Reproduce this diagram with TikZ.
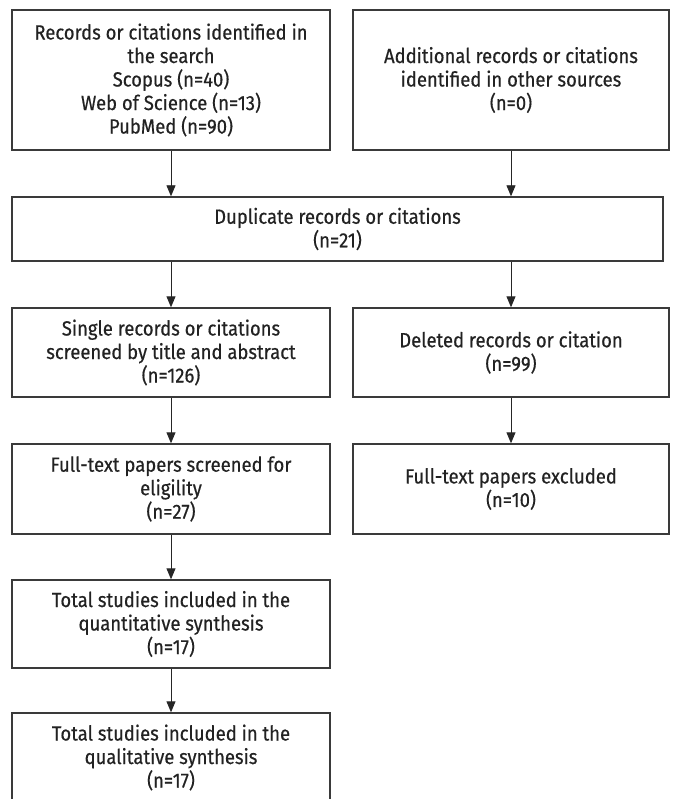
\documentclass[tikz,border=0pt]{standalone}
\usepackage{fontspec}
\setmainfont{Fira Sans}[FakeStretch=0.9,FakeBold=0.5]
\usetikzlibrary{arrows.meta,positioning}
\definecolor{boxline}{HTML}{3A3A3A}
\definecolor{txt}{HTML}{222222}
\tikzset{
  flowbox/.style={draw=boxline, line width=1.4pt, rectangle, inner sep=0pt, align=center,
    text=txt, font=\fontsize{20.5}{23.5}\selectfont},
  flowarrow/.style={line width=0.9pt, draw=black!85, -{Triangle[length=11pt,width=9pt]}}
}
\begin{document}
\begin{tikzpicture}[x=1pt,y=-1pt]
\useasboundingbox (0,0) rectangle (672,799);
\begin{scope}
\clip (0,0) rectangle (672,799);
\node[flowbox, minimum width=318pt, minimum height=140pt] (b1) at (171,80)
  {Records or citations identified in\\the search\\Scopus (n=40)\\Web of Science (n=13)\\PubMed (n=90)};
\node[flowbox, minimum width=316pt, minimum height=140pt] (b2) at (511,80)
  {Additional records or citations\\identified in other sources\\(n=0)};
\node[flowbox, minimum width=651pt, minimum height=64pt] (dup) at (337.5,229)
  {Duplicate records or citations\\(n=21)};
\node[flowbox, minimum width=318pt, minimum height=89pt] (single) at (171,352.5)
  {Single records or citations\\screened by title and abstract\\(n=126)};
\node[flowbox, minimum width=316pt, minimum height=89pt] (deleted) at (511,352.5)
  {Deleted records or citation\\(n=99)};
\node[flowbox, minimum width=318pt, minimum height=90pt] (full) at (171,489)
  {Full-text papers screened for\\eligility\\(n=27)};
\node[flowbox, minimum width=316pt, minimum height=90pt] (excl) at (511,489)
  {Full-text papers excluded\\(n=10)};
\node[flowbox, minimum width=318pt, minimum height=88pt] (quant) at (171,624)
  {Total studies included in the\\quantitative synthesis\\(n=17)};
\node[flowbox, minimum width=318pt, minimum height=89pt] (qual) at (171,757.5)
  {Total studies included in the\\qualitative synthesis\\(n=17)};
\end{scope}
\draw[flowarrow] (b1.south) -- (b1.south |- dup.north);
\draw[flowarrow] (b2.south) -- (b2.south |- dup.north);
\draw[flowarrow] (dup.south -| single.north) -- (single.north);
\draw[flowarrow] (dup.south -| deleted.north) -- (deleted.north);
\draw[flowarrow] (single.south) -- (full.north);
\draw[flowarrow] (deleted.south) -- (excl.north);
\draw[flowarrow] (full.south) -- (quant.north);
\draw[flowarrow] (quant.south) -- (qual.north);
\end{tikzpicture}
\end{document}
